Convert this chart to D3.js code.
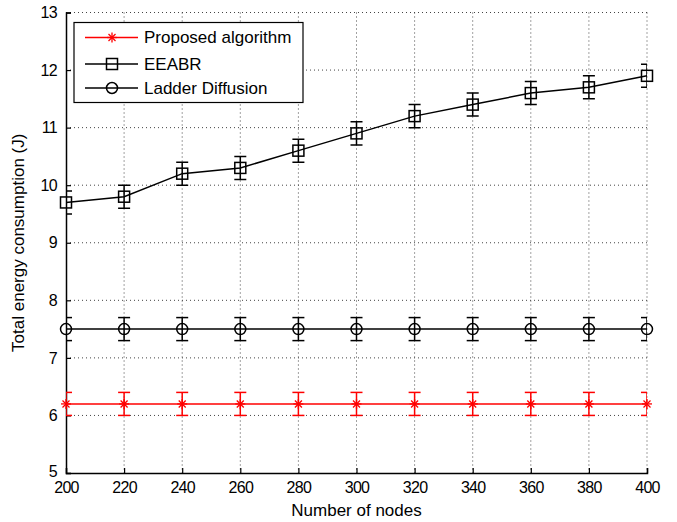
<!DOCTYPE html>
<html><head><meta charset="utf-8">
<script src="https://cdn.jsdelivr.net/npm/d3@7"></script>
<style>body{margin:0;background:#fff}svg{display:block}text{font-family:"Liberation Sans",Arial,sans-serif;fill:#000}</style>
</head><body>
<script>
const nodes = [200,220,240,260,280,300,320,340,360,380,400];
const proposed = [6.2,6.2,6.2,6.2,6.2,6.2,6.2,6.2,6.2,6.2,6.2];
const eeabr = [9.7,9.8,10.2,10.3,10.6,10.9,11.2,11.4,11.6,11.7,11.9];
const ladder = [7.5,7.5,7.5,7.5,7.5,7.5,7.5,7.5,7.5,7.5,7.5];
const errProposed = [0.2,0.2,0.2,0.2,0.2,0.2,0.2,0.2,0.2,0.2,0.2];
const errEeabr = [0.2,0.2,0.2,0.2,0.2,0.2,0.2,0.2,0.2,0.2,0.2];
const errLadder = [0.2,0.2,0.2,0.2,0.2,0.2,0.2,0.2,0.2,0.2,0.2];
const xTicks = [200,220,240,260,280,300,320,340,360,380,400];
const yTicks = [5,6,7,8,9,10,11,12,13];
const seriesNames = ["Proposed algorithm","EEABR","Ladder Diffusion"];

const W=677,H=522;
const L=66,R=647,T=12.5,B=473;
const svg=d3.select("body").append("svg").attr("width",W).attr("height",H);
const x=d3.scaleLinear().domain([200,400]).range([L,R]);
const y=d3.scaleLinear().domain([5,13]).range([B,T]);

svg.append("defs").append("clipPath").attr("id","clip").append("rect")
  .attr("x",L).attr("y",T).attr("width",R-L).attr("height",B-T);

// grid
const g=svg.append("g");
g.selectAll(".vg").data(xTicks.slice(1)).enter().append("line")
  .attr("x1",d=>x(d)).attr("x2",d=>x(d)).attr("y1",T).attr("y2",B)
  .attr("stroke","#444").attr("stroke-width",1).attr("stroke-dasharray","1,3");
g.selectAll(".hg").data(yTicks.slice(1)).enter().append("line")
  .attr("y1",d=>y(d)).attr("y2",d=>y(d)).attr("x1",L).attr("x2",R)
  .attr("stroke","#444").attr("stroke-width",1).attr("stroke-dasharray","1,3");

// axes
const xa=svg.append("g").attr("transform",`translate(0,${B})`)
  .call(d3.axisBottom(x).tickValues(xTicks).tickSize(-5).tickPadding(11).tickFormat(d3.format("d")));
const ya=svg.append("g").attr("transform",`translate(${L},0)`)
  .call(d3.axisLeft(y).tickValues(yTicks).tickSize(-5).tickPadding(9).tickFormat(d3.format("d")));
[xa,ya].forEach(a=>{
  a.select(".domain").attr("stroke","#000").attr("stroke-width",1.5);
  a.selectAll(".tick line").attr("stroke","#000").attr("stroke-width",1.2);
  a.selectAll("text").attr("font-size",16).attr("letter-spacing","-0.7px").style("font-family","'Liberation Sans',Arial,sans-serif");
});
xa.selectAll("text").attr("dy","0.55em");
ya.selectAll(".tick").filter(d=>d===5).select("text").attr("dy","0.2em");

const series=[
  {name:seriesNames[0],vals:proposed,err:errProposed,color:"#ff0000",marker:"star"},
  {name:seriesNames[1],vals:eeabr,err:errEeabr,color:"#000",marker:"square"},
  {name:seriesNames[2],vals:ladder,err:errLadder,color:"#000",marker:"circle"}
];

function drawMarker(sel,m,color){
  if(m==="square"){
    sel.append("rect").attr("x",-5.5).attr("y",-5.5).attr("width",11).attr("height",11)
      .attr("fill","none").attr("stroke",color).attr("stroke-width",1.5);
  }else if(m==="circle"){
    sel.append("circle").attr("r",5.5).attr("fill","none").attr("stroke",color).attr("stroke-width",1.5);
  }else{
    const s=5;
    [[-s,0,s,0],[0,-s,0,s],[-s*0.7,-s*0.7,s*0.7,s*0.7],[-s*0.7,s*0.7,s*0.7,-s*0.7]].forEach(c=>{
      sel.append("line").attr("x1",c[0]).attr("y1",c[1]).attr("x2",c[2]).attr("y2",c[3])
        .attr("stroke",color).attr("stroke-width",1.3);
    });
  }
}

const line=d3.line().x(d=>x(d[0])).y(d=>y(d[1]));
series.forEach(s=>{
  const pts=nodes.map((n,i)=>[n,s.vals[i],s.err[i]]);
  const eg=svg.append("g").attr("clip-path","url(#clip)");
  pts.forEach(p=>{
    const cx=x(p[0]),y0=y(p[1]-p[2]),y1=y(p[1]+p[2]);
    eg.append("line").attr("x1",cx).attr("x2",cx).attr("y1",y0).attr("y2",y1).attr("stroke",s.color).attr("stroke-width",1.5);
    [y0,y1].forEach(yy=>eg.append("line").attr("x1",cx-6).attr("x2",cx+6).attr("y1",yy).attr("y2",yy).attr("stroke",s.color).attr("stroke-width",1.5));
  });
  svg.append("path").datum(pts).attr("d",line).attr("fill","none").attr("stroke",s.color).attr("stroke-width",1.5);
  pts.forEach(p=>{
    const mg=svg.append("g").attr("transform",`translate(${x(p[0])},${y(p[1])})`);
    drawMarker(mg,s.marker,s.color);
  });
});

// legend
const lg=svg.append("g");
lg.append("rect").attr("x",74).attr("y",22.5).attr("width",229).attr("height",80)
  .attr("fill","#fff").attr("stroke","#000").attr("stroke-width",1.2);
const rowsY=[37.5,64,88];
series.forEach((s,i)=>{
  const yy=rowsY[i];
  lg.append("line").attr("x1",85).attr("x2",138).attr("y1",yy).attr("y2",yy).attr("stroke",s.color).attr("stroke-width",1.5);
  const mg=lg.append("g").attr("transform",`translate(112,${yy})`);
  drawMarker(mg,s.marker,s.color);
  lg.append("text").attr("x",144).attr("y",yy).attr("dy","0.35em").attr("font-size",17).text(s.name);
});

svg.append("text").attr("x",(L+R)/2).attr("y",516).attr("text-anchor","middle").attr("font-size",17).text("Number of nodes");
svg.append("text").attr("transform",`translate(24,${(T+B)/2}) rotate(-90)`).attr("text-anchor","middle").attr("font-size",17).text("Total energy consumption (J)");
</script>
</body></html>
